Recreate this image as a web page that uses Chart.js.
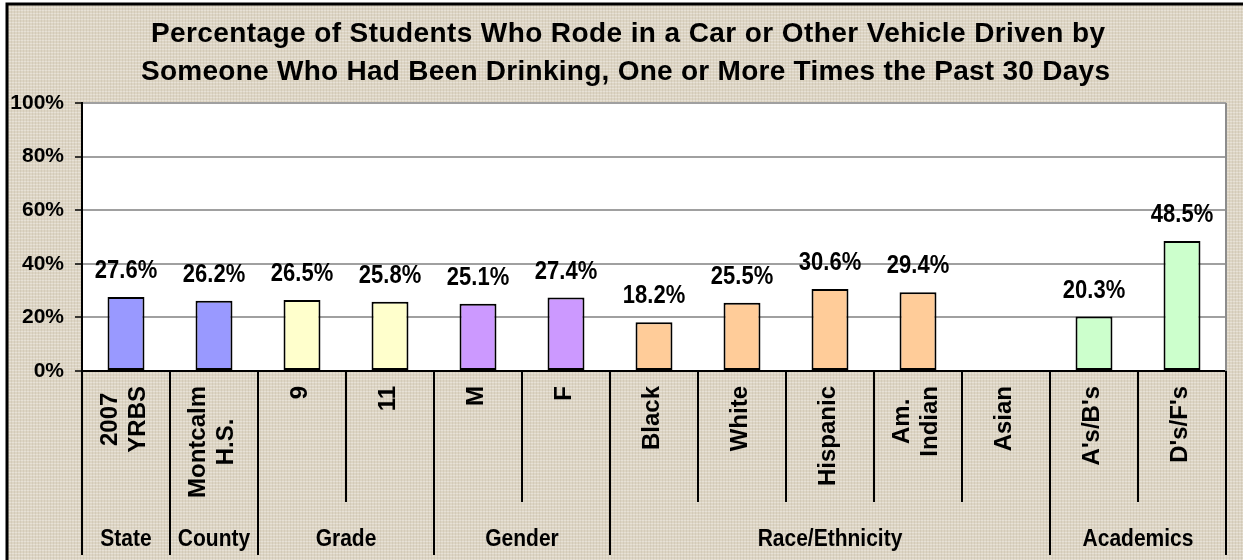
<!DOCTYPE html>
<html>
<head>
<meta charset="utf-8">
<title>Rode With a Drinking Driver</title>
<script src="https://cdn.jsdelivr.net/npm/chart.js"></script>
<style>
    html, body { margin: 0; padding: 0; background: #fff; }
    .chart-container { width: 1243px; height: 560px; position: relative; }
</style>
</head>
<body>
<div class="chart-container"><canvas id="rideChart"></canvas></div>
<script>
    const titleLines = [
        'Percentage of Students Who Rode in a Car or Other Vehicle Driven by',
        'Someone Who Had Been Drinking, One or More Times the Past 30 Days'
    ];
    const categories = [
        ['2007', 'YRBS'], ['Montcalm', 'H.S.'], ['9'], ['11'], ['M'], ['F'],
        ['Black'], ['White'], ['Hispanic'], ['Am.', 'Indian'], ['Asian'],
        ["A's/B's"], ["D's/F's"]
    ];
    const values = [27.6, 26.2, 26.5, 25.8, 25.1, 27.4, 18.2, 25.5, 30.6, 29.4, null, 20.3, 48.5];
    const groups = ['State', 'County', 'Grade', 'Gender', 'Race/Ethnicity', 'Academics'];
    const groupSizes = [1, 1, 2, 2, 5, 2];
    const groupColors = ['#9999FF', '#9999FF', '#FFFFCC', '#CC99FF', '#FFCC99', '#CCFFCC'];
    const yTicks = [0, 20, 40, 60, 80, 100];

    // one colour per bar, taken from its group
    const barColors = [];
    groupSizes.forEach((n, g) => { for (let k = 0; k < n; k++) barColors.push(groupColors[g]); });

    const ctx = document.getElementById('rideChart').getContext('2d');
    const FONT = 'Arial, "Liberation Sans", sans-serif';

    function linenPattern() {
        const c = document.createElement('canvas');
        c.width = 6; c.height = 6;
        const g = c.getContext('2d');
        g.fillStyle = '#DDD5C4';
        g.fillRect(0, 0, 6, 6);
        g.fillStyle = 'rgba(255,255,255,0.3)';
        g.fillRect(0, 1, 6, 1);
        g.fillRect(0, 4, 6, 1);
        g.fillStyle = 'rgba(110,95,70,0.09)';
        g.fillRect(2, 0, 1, 6);
        g.fillRect(5, 0, 1, 6);
        return ctx.createPattern(c, 'repeat');
    }

    function stretchText(c, text, x, y, sy) {
        c.save();
        c.translate(x, y);
        c.scale(1, sy);
        c.fillText(text, 0, 0);
        c.restore();
    }

    const backdrop = {
        id: 'backdrop',
        beforeDraw(chart) {
            const c = chart.ctx, a = chart.chartArea;
            c.save();
            c.fillStyle = '#fff';
            c.fillRect(0, 0, chart.width, chart.height);
            c.fillStyle = linenPattern();
            c.fillRect(7, 4, chart.width, chart.height);
            c.fillStyle = '#fff';
            c.fillRect(a.left, a.top, a.right - a.left, a.bottom - a.top);
            c.restore();
        }
    };

    const decorations = {
        id: 'decorations',
        afterDatasetsDraw(chart) {
            const c = chart.ctx, a = chart.chartArea;
            const xs = chart.scales.x;
            const meta = chart.getDatasetMeta(0);
            c.save();

            // right edge of the plot area
            c.strokeStyle = '#8C8C8C';
            c.lineWidth = 2;
            c.beginPath();
            c.moveTo(a.right, a.top);
            c.lineTo(a.right, a.bottom);
            c.stroke();

            // value labels
            c.fillStyle = '#000';
            c.font = 'bold 22px ' + FONT;
            c.textAlign = 'center';
            c.textBaseline = 'alphabetic';
            meta.data.forEach((bar, i) => {
                if (values[i] == null) return;
                stretchText(c, values[i].toFixed(1) + '%', bar.x, bar.y - 19, 1.15);
            });

            // category separators
            const edge = i => {
                if (i <= 0) return a.left;
                if (i >= categories.length) return a.right;
                return (xs.getPixelForValue(i - 1) + xs.getPixelForValue(i)) / 2;
            };
            const groupStarts = [0];
            groupSizes.forEach(n => groupStarts.push(groupStarts[groupStarts.length - 1] + n));
            c.strokeStyle = '#000';
            c.lineWidth = 2;
            for (let i = 0; i <= categories.length; i++) {
                const x = Math.round(edge(i));
                const long = groupStarts.includes(i);
                c.beginPath();
                c.moveTo(x, a.bottom);
                c.lineTo(x, long ? 555 : 502);
                c.stroke();
            }

            // category labels, rotated
            c.font = 'bold 24px ' + FONT;
            c.textBaseline = 'middle';
            c.textAlign = 'center';
            categories.forEach((lines, i) => {
                const x = xs.getPixelForValue(i) - 2;
                const maxW = Math.max(...lines.map(t => c.measureText(t).width));
                c.save();
                c.translate(x, 386);
                c.rotate(-Math.PI / 2);
                lines.forEach((t, j) => {
                    c.fillText(t, -maxW / 2, (j - (lines.length - 1) / 2) * 28);
                });
                c.restore();
            });

            // group labels
            c.font = 'bold 21px ' + FONT;
            c.textBaseline = 'alphabetic';
            groups.forEach((g, k) => {
                const x = (edge(groupStarts[k]) + edge(groupStarts[k + 1])) / 2;
                stretchText(c, g, x, 546, 1.15);
            });

            c.restore();
        },
        afterDraw(chart) {
            const c = chart.ctx;
            c.save();
            // title, spread to the width of the original lines
            c.fillStyle = '#000';
            c.font = 'bold 28px ' + FONT;
            c.textAlign = 'left';
            c.textBaseline = 'alphabetic';
            const targets = [[151, 954, 42], [141, 969, 80]];
            titleLines.forEach((t, j) => {
                const [x0, w, y] = targets[j];
                c.letterSpacing = '0px';
                const plain = c.measureText(t).width;
                c.letterSpacing = ((w - plain) / (t.length - 1)) + 'px';
                c.fillText(t, x0, y);
            });
            c.letterSpacing = '0px';
            // frame
            c.strokeStyle = '#000';
            c.lineWidth = 3;
            c.strokeRect(7, 4, chart.width, chart.height);
            c.restore();
        }
    };

    new Chart(ctx, {
        type: 'bar',
        data: {
            labels: categories,
            datasets: [{
                data: values,
                backgroundColor: barColors,
                borderColor: '#000',
                borderWidth: 2,
                borderSkipped: false,
                categoryPercentage: 1,
                barPercentage: 0.42
            }]
        },
        options: {
            responsive: true,
            maintainAspectRatio: false,
            animation: false,
            events: [],
            layout: { padding: { top: 103, right: 17, left: 0, bottom: 0 } },
            plugins: {
                legend: { display: false },
                title: { display: false },
                tooltip: { enabled: false }
            },
            scales: {
                x: {
                    grid: { display: false },
                    border: { color: '#000', width: 2 },
                    ticks: { display: false },
                    afterFit: s => { s.height = 189; }
                },
                y: {
                    min: 0,
                    max: 100,
                    afterBuildTicks: s => { s.ticks = yTicks.map(v => ({ value: v })); },
                    afterFit: s => { s.width = 82; },
                    grid: { color: '#A0A0A0', lineWidth: 2, tickLength: 7, tickColor: '#000', tickWidth: 1.5 },
                    border: { color: '#000', width: 2 },
                    ticks: {
                        color: '#000',
                        padding: 11,
                        font: { family: FONT, size: 21, weight: 'bold' },
                        callback: v => v + '%'
                    }
                }
            }
        },
        plugins: [backdrop, decorations]
    });
</script>
</body>
</html>
